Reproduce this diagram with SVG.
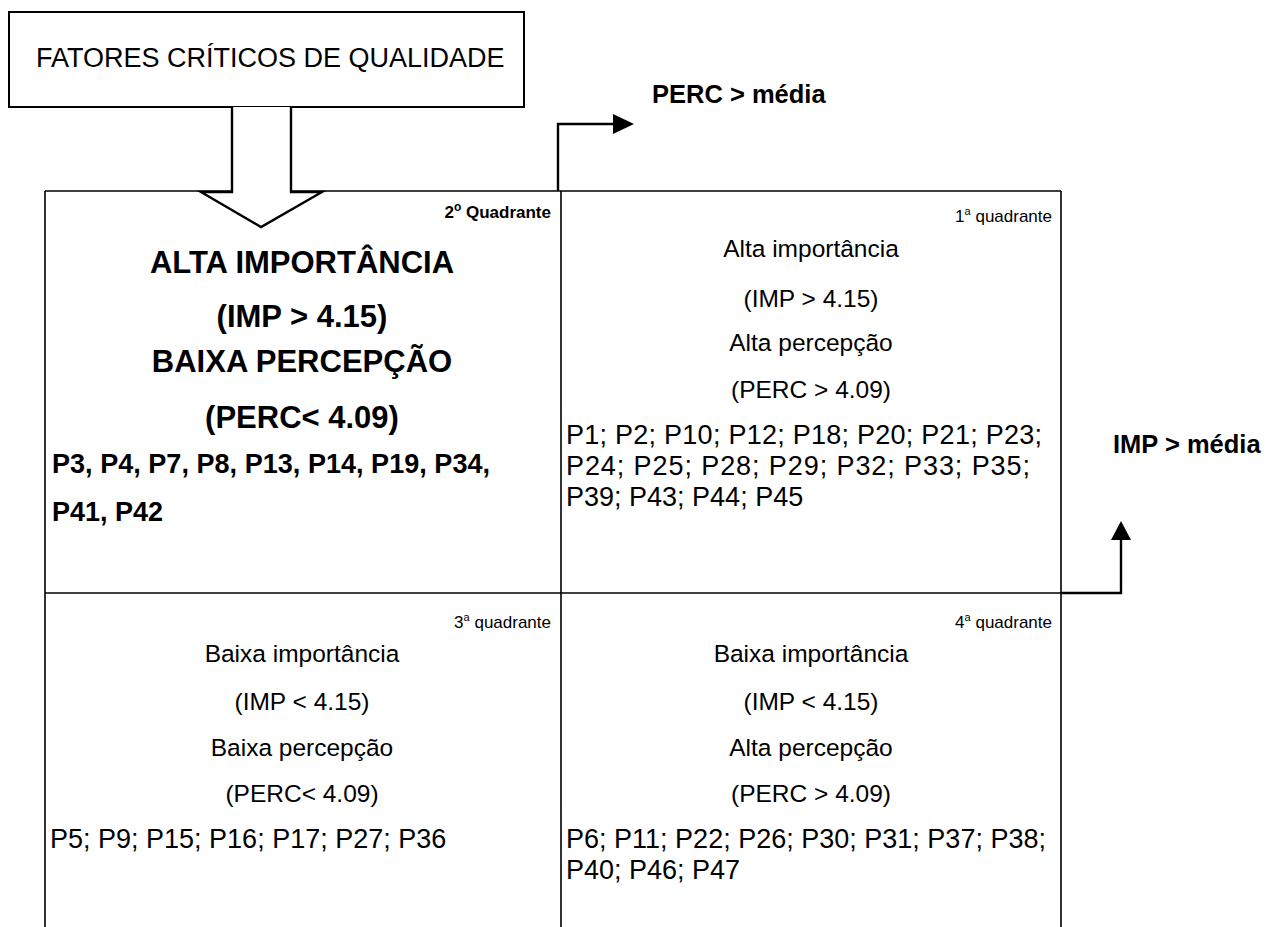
<svg xmlns="http://www.w3.org/2000/svg" width="1268" height="927" viewBox="0 0 1268 927">
<style>
text{font-family:"Liberation Sans",Arial,sans-serif;fill:#000}
.b{font-weight:bold}
.c{text-anchor:middle}
.r{text-anchor:end}
.h{font-size:31px}
.n{font-size:24.5px}
.l{font-size:27px}
.p{font-size:27px}
.q{font-size:17px}
.ln{fill:none;stroke:#000;stroke-width:1.6}
.ar{fill:none;stroke:#000;stroke-width:2.4}
</style>
<rect width="1268" height="927" fill="#fff"/>
<g id="title">
<rect x="9" y="12" width="515" height="95" fill="#fff" stroke="#000" stroke-width="2"/>
<text x="36" y="67" style="font-size:27px">FATORES CRÍTICOS DE QUALIDADE</text>
</g>
<g id="grid">
<path class="ln" d="M45,191 H1061 M45,191 V927 M561,191 V927 M1061,191 V927 M45,593 H1061"/>
</g>
<g id="connectors">
<path d="M232,107 V192 H201 L261,227 L322,192 H291 V107" fill="#fff" stroke="#000" stroke-width="2.4" stroke-linejoin="miter"/>
<path class="ar" d="M558,191 V124 H614"/>
<path d="M613,114 L634,124 L613,134 z" fill="#000"/>
<path class="ar" d="M1061,593 H1121 V540"/>
<path d="M1111,540 L1121,521 L1131,540 z" fill="#000"/>
</g>
<g id="perc-label"><text class="b" x="652" y="103" style="font-size:25.5px">PERC &gt; média</text></g>
<g id="imp-label"><text class="b" x="1113" y="453" style="font-size:25.5px">IMP &gt; média</text></g>
<g id="q2">
<text class="b q r" x="551" y="218">2<tspan dy="-7" font-size="12">o</tspan><tspan dy="7">  Quadrante</tspan></text>
<text class="b h c" x="302" y="273">ALTA IMPORTÂNCIA</text>
<text class="b h c" x="302" y="327">(IMP &gt; 4.15)</text>
<text class="b h c" x="302" y="372">BAIXA PERCEPÇÃO</text>
<text class="b h c" x="302" y="428">(PERC&lt; 4.09)</text>
<text class="b l" x="52" y="473" textLength="438" lengthAdjust="spacing">P3, P4, P7, P8, P13, P14, P19, P34,</text>
<text class="b l" x="52" y="521">P41, P42</text>
</g>
<g id="q1">
<text class="q r" x="1052" y="222">1<tspan dy="-7" font-size="11">a</tspan><tspan dy="7">  quadrante</tspan></text>
<text class="n c" x="811" y="257">Alta importância</text>
<text class="n c" x="811" y="307">(IMP &gt; 4.15)</text>
<text class="n c" x="811" y="351">Alta percepção</text>
<text class="n c" x="811" y="398">(PERC &gt; 4.09)</text>
<text class="p" x="566" y="444" textLength="476" lengthAdjust="spacing">P1; P2; P10; P12; P18; P20; P21; P23;</text>
<text class="p" x="566" y="475" textLength="464" lengthAdjust="spacing">P24; P25; P28; P29; P32; P33; P35;</text>
<text class="p" x="566" y="506">P39; P43; P44; P45</text>
</g>
<g id="q3">
<text class="q r" x="551" y="628">3<tspan dy="-7" font-size="11">a</tspan><tspan dy="7">  quadrante</tspan></text>
<text class="n c" x="302" y="662">Baixa importância</text>
<text class="n c" x="302" y="710">(IMP &lt; 4.15)</text>
<text class="n c" x="302" y="756">Baixa percepção</text>
<text class="n c" x="302" y="802">(PERC&lt; 4.09)</text>
<text class="p" x="50" y="848">P5; P9; P15; P16; P17; P27; P36</text>
</g>
<g id="q4">
<text class="q r" x="1052" y="628">4<tspan dy="-7" font-size="11">a</tspan><tspan dy="7">  quadrante</tspan></text>
<text class="n c" x="811" y="662">Baixa importância</text>
<text class="n c" x="811" y="710">(IMP &lt; 4.15)</text>
<text class="n c" x="811" y="756">Alta percepção</text>
<text class="n c" x="811" y="802">(PERC &gt; 4.09)</text>
<text class="p" x="566" y="848" textLength="480" lengthAdjust="spacing">P6; P11; P22; P26; P30; P31; P37; P38;</text>
<text class="p" x="566" y="879">P40; P46; P47</text>
</g>
</svg>
